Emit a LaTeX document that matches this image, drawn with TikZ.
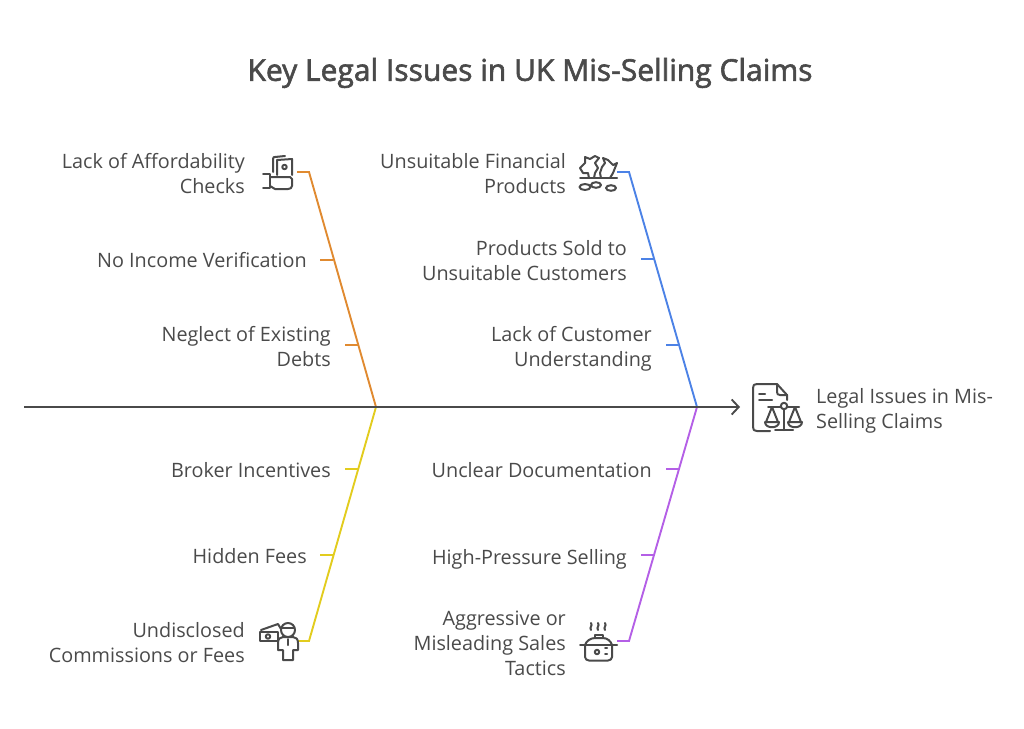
\documentclass[tikz,border=0pt]{standalone}
\usepackage{fontspec}
\setmainfont{Open Sans}
\newfontfamily\titlefont[FakeBold=2]{Open Sans}
\usetikzlibrary{arrows.meta}
\definecolor{ink}{HTML}{4A4A4A}
\definecolor{orangeb}{HTML}{E08A30}
\definecolor{blueb}{HTML}{4C82E6}
\definecolor{yellowb}{HTML}{E2CC1E}
\definecolor{purpleb}{HTML}{B45FE6}
\tikzset{
  lbl/.style={text=ink,font=\fontsize{19.8}{25}\selectfont,align=right,anchor=east,inner sep=0pt},
  lbll/.style={text=ink,font=\fontsize{19.8}{25}\selectfont,align=left,anchor=west,inner sep=0pt},
  ttl/.style={text=ink,font=\titlefont\fontsize{30}{34}\selectfont,inner sep=0pt},
  bone/.style={line width=1.9pt,line join=miter},
  icon/.style={draw=ink,line width=2pt,line cap=round,line join=round,fill=none},
  spine/.style={draw=ink,line width=1.9pt}
}
\begin{document}
\begin{tikzpicture}[x=1pt,y=-1pt]
\useasboundingbox (0,0) rectangle (1024,728);
\node[ttl] (title) at (530,73) {Key Legal Issues in UK Mis-Selling Claims};
% junctions
\coordinate (j1) at (376,407);
\coordinate (j2) at (697,407);
\coordinate (s0) at (24,407);
\coordinate (s1) at (740,407);
\coordinate (oa) at (297,172); \coordinate (ob) at (309,172);
\coordinate (ba) at (617,172); \coordinate (bb) at (629,172);
\coordinate (ya) at (297,641); \coordinate (yb) at (309,641);
\coordinate (pa) at (617,641); \coordinate (pb) at (629,641);
% bones
\draw[bone,orangeb] (oa)--(ob)--(j1);
\draw[bone,blueb] (ba)--(bb)--(j2);
\draw[bone,yellowb] (ya)--(yb)--(j1);
\draw[bone,purpleb] (pa)--(pb)--(j2);
% ticks
\coordinate (o1a) at (320,260); \coordinate (o1b) at (333,260);
\coordinate (o2a) at (345,345); \coordinate (o2b) at (358,345);
\coordinate (b1a) at (641,259); \coordinate (b1b) at (654,259);
\coordinate (b2a) at (666,345); \coordinate (b2b) at (679,345);
\coordinate (y1a) at (345,469); \coordinate (y1b) at (358,469);
\coordinate (y2a) at (320,555); \coordinate (y2b) at (333,555);
\coordinate (p1a) at (666,469); \coordinate (p1b) at (679,469);
\coordinate (p2a) at (641,555); \coordinate (p2b) at (654,555);
\draw[bone,orangeb] (o1a)--(o1b) (o2a)--(o2b);
\draw[bone,blueb] (b1a)--(b1b) (b2a)--(b2b);
\draw[bone,yellowb] (y1a)--(y1b) (y2a)--(y2b);
\draw[bone,purpleb] (p1a)--(p1b) (p2a)--(p2b);
% spine
\draw[spine,-{Straight Barb[length=7pt,width=15pt,line width=1.9pt]}] (s0)--(s1);
% labels
\node[lbl] (l1) at (245,174) {Lack of Affordability\\Checks};
\node[lbl] (l2) at (307,260.5) {No Income Verification};
\node[lbl] (l3) at (331,347) {Neglect of Existing\\Debts};
\node[lbl] (l4) at (331,470) {Broker Incentives};
\node[lbl] (l5) at (307,556) {Hidden Fees};
\node[lbl] (l6) at (245,643) {Undisclosed\\Commissions or Fees};
\node[lbl] (r1) at (566,174) {Unsuitable Financial\\Products};
\node[lbl] (r2) at (627,260.5) {Products Sold to\\Unsuitable Customers};
\node[lbl] (r3) at (652,349) {Lack of Customer\\Understanding};
\node[lbl] (r4) at (652,470) {Unclear Documentation};
\node[lbl] (r5) at (627,559) {High-Pressure Selling};
\node[lbl] (r6) at (566,643.5) {Aggressive or\\Misleading Sales\\Tactics};
\node[lbll] (e) at (816,411) {Legal Issues in Mis-\\Selling Claims};
% icon: scales document
\draw[icon] (777,384) -- (757,384) .. controls (754,384) and (753,385) .. (753,388) -- (753,427) .. controls (753,430) and (754,431) .. (757,431) -- (770,431);
\draw[icon] (777,384) -- (787,395) -- (787,400);
\draw[icon] (777,385) -- (777,392) .. controls (777,394) and (778,395) .. (780,395) -- (787,395);
\draw[icon] (759,394) -- (765,394) (759,400) -- (772,400);
\draw[icon] (784,406) circle (3.2pt);
\draw[icon] (768,407) -- (780.5,407) (787.5,407) -- (799,407);
\draw[icon] (784,409.5) -- (784,430) (775,430) -- (793,430);
\draw[icon] (772,407) -- (766,422) (772,407) -- (778,422) (765,422) -- (779,422) (765,422) .. controls (765,429) and (779,429) .. (779,422);
\draw[icon] (795,407) -- (789,422) (795,407) -- (801,422) (788,422) -- (802,422) (788,422) .. controls (788,429) and (802,429) .. (802,422);
% icon: money hand
\draw[icon] (273,172) -- (273,159) .. controls (273,157) and (274,157) .. (275,157) -- (285,156);
\draw[icon] (277,175) -- (277,160) -- (292,159) -- (292,175);
\draw[icon] (284.5,167) circle (2.2pt);
\draw[icon] (263,174) -- (270,174) -- (270,188) -- (263,188);
\draw[icon] (270,177) -- (290,177) -- (292,179) -- (292,186) .. controls (292,188) and (290,189) .. (288,189) -- (275,189) -- (270,186);
% icon: broken piggy
\draw[icon] (594,178) -- (595,173) -- (598,168) -- (595,163) -- (599,158) -- (595,156) -- (590,159) -- (585,157) -- (585,163) -- (580,168) -- (583,173) -- (588,173) -- (589,178);
\draw[icon] (610,178) -- (613,173) -- (617,163) -- (613,165) -- (608,160) -- (603,158) -- (605,163) -- (602,167) -- (600,173) -- (601,178);
\draw[icon] (580,178) -- (617,178);
\draw[icon] (585,187) ellipse (5.5pt and 3pt);
\draw[icon] (596,185) ellipse (5pt and 2.8pt);
\draw[icon] (611,188) ellipse (5pt and 2.8pt);
% icon: cash and person
\draw[icon] (260,632) rectangle (278,641);
\draw[icon] (268,636.5) circle (2.2pt);
\draw[icon] (261,630) -- (278,624) -- (281,629);
\draw[icon] (288,630) circle (7pt);
\draw[icon] (282,628) -- (294,628);
\draw[icon] (288,639) -- (288,645);
\draw[icon] (283,650) -- (278,650) -- (278,643) .. controls (278,639) and (280,637) .. (283,637) -- (293,637) .. controls (296,637) and (298,639) .. (298,643) -- (298,650) -- (293,650) -- (293,660) -- (283,660) -- (283,650);
% icon: pot
\draw[icon] (591,630) .. controls (589,627) and (593,626) .. (591,623);
\draw[icon] (598,630) .. controls (596,627) and (600,626) .. (598,623);
\draw[icon] (605,630) .. controls (603,627) and (607,626) .. (605,623);
\draw[icon] (595,638) -- (595,635) -- (603,635) -- (603,638);
\draw[icon] (585,645) .. controls (586,641) and (591,638) .. (595,638) -- (603,638) .. controls (607,638) and (611,641) .. (612,645);
\draw[icon] (580,645) -- (617,645);
\draw[icon] (585,645) -- (585,657) .. controls (585,659) and (587,660.5) .. (589,660.5) -- (608,660.5) .. controls (610,660.5) and (612,659) .. (612,657) -- (612,645);
\draw[icon] (597,652) circle (2.2pt);
\draw[icon] (605,648) -- (607,648) (605,654) -- (607,654);
\end{tikzpicture}
\end{document}
